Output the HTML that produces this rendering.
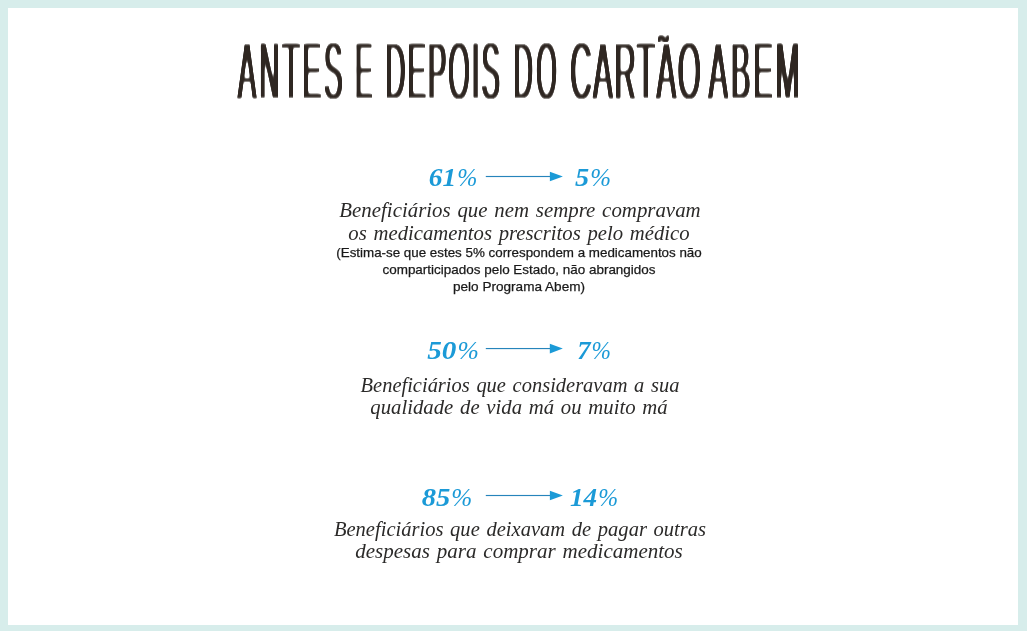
<!DOCTYPE html>
<html lang="pt">
<head>
<meta charset="utf-8">
<title>Antes e depois do cartão Abem</title>
<style>
html,body{margin:0;padding:0;}
body{width:1027px;height:631px;background:#d7edeb;position:relative;overflow:hidden;font-family:"Liberation Serif",serif;}
#card{position:absolute;left:8px;top:8px;width:1010px;height:617px;background:#fff;}
.ln{position:absolute;white-space:nowrap;line-height:1;}
.ln>span{display:inline-block;transform-origin:50% 50%;}
.title{font-family:"Liberation Sans",sans-serif;color:#2a221d;}
.it{font-family:"Liberation Serif",serif;font-style:italic;color:#2b2a29;}
.num{font-family:"Liberation Serif",serif;font-style:italic;font-weight:bold;color:#1b9ad7;}
.sm{font-family:"Liberation Sans",sans-serif;color:#1a1a1a;}
.pc{font-weight:normal;display:inline-block;transform:scaleX(.88);transform-origin:0 50%;margin-left:1px;margin-right:-2.6px;}
svg.arrow{position:absolute;left:0;top:0;overflow:visible;}
</style>
</head>
<body>
<div id="card"></div>

<svg class="arrow" id="title" width="1027" height="631" viewBox="0 0 1027 631" role="heading" aria-label="Antes e depois do cartão Abem">
<defs>
<filter id="cond" x="200" y="15" width="640" height="100" filterUnits="userSpaceOnUse" color-interpolation-filters="sRGB">
  <feGaussianBlur in="SourceAlpha" stdDeviation="1.5 0" result="bx"/>
  <feComponentTransfer in="bx" result="dx"><feFuncA type="linear" slope="3" intercept="-0.0400"/></feComponentTransfer>
  <feGaussianBlur in="dx" stdDeviation="0 1.5" result="by"/>
  <feComponentTransfer in="by" result="ey"><feFuncA type="linear" slope="3" intercept="-2.0200"/></feComponentTransfer>
  <feOffset in="ey" dx="0" dy="0" x="200" y="42" width="640" height="73" result="main"/>
  <feOffset in="ey" dx="-3.5" dy="5.5" x="650" y="31" width="30" height="11" result="til"/>
  <feMerge result="shape"><feMergeNode in="main"/><feMergeNode in="til"/></feMerge>
  <feFlood flood-color="#2a221d"/>
  <feComposite in2="shape" operator="in"/>
</filter>
</defs>
<g filter="url(#cond)" font-family="Liberation Sans, sans-serif" font-size="100" fill="#000">
    <text transform="translate(237.68,98.8) scale(0.278,0.82)" letter-spacing="10.99">ANTES</text>
    <text transform="translate(355.20,98.8) scale(0.255,0.82)" letter-spacing="8.00">E</text>
    <text transform="translate(385.51,98.8) scale(0.276,0.82)" letter-spacing="7.33">DEPOIS</text>
    <text transform="translate(513.76,98.8) scale(0.265,0.82)" letter-spacing="12.64">DO</text>
    <text transform="translate(570.14,98.8) scale(0.295,0.82)" letter-spacing="5.56">CARTÃO</text>
    <text transform="translate(708.62,98.8) scale(0.291,0.82)" letter-spacing="9.99">ABEM</text>
</g>
</svg>

<div class="ln num" id="n1a" style="left:452.92px;top:164.81px;font-size:26px;"><span style="transform:translateX(-50%) scaleX(1.0538)">61<span class="pc">%</span></span></div>
<div class="ln num" id="n1b" style="left:593.05px;top:164.81px;font-size:26px;"><span style="transform:translateX(-50%) scaleX(1.0898)">5<span class="pc">%</span></span></div>
<div class="ln it" id="a1" style="left:519.64px;top:199.60px;font-size:20px;word-spacing:1.5px;"><span style="transform:translateX(-50%) scaleX(1.0433)">Beneficiários que nem sempre compravam</span></div>
<div class="ln it" id="a2" style="left:519.43px;top:222.90px;font-size:20px;word-spacing:1.5px;"><span style="transform:translateX(-50%) scaleX(1.0352)">os medicamentos prescritos pelo médico</span></div>
<div class="ln sm" id="s1" style="left:518.64px;top:245.60px;font-size:13px;-webkit-text-stroke:0.25px #1a1a1a;"><span style="transform:translateX(-50%) scaleX(1.0280)">(Estima-se que estes 5% correspondem a medicamentos não</span></div>
<div class="ln sm" id="s2" style="left:518.56px;top:262.81px;font-size:13px;-webkit-text-stroke:0.25px #1a1a1a;"><span style="transform:translateX(-50%) scaleX(1.0352)">comparticipados pelo Estado, não abrangidos</span></div>
<div class="ln sm" id="s3" style="left:519.49px;top:279.90px;font-size:13px;-webkit-text-stroke:0.25px #1a1a1a;"><span style="transform:translateX(-50%) scaleX(1.0440)">pelo Programa Abem)</span></div>

<div class="ln num" id="n2a" style="left:452.78px;top:337.60px;font-size:26px;"><span style="transform:translateX(-50%) scaleX(1.1208)">50<span class="pc">%</span></span></div>
<div class="ln num" id="n2b" style="left:594.29px;top:337.60px;font-size:26px;"><span style="transform:translateX(-50%) scaleX(1.0201)">7<span class="pc">%</span></span></div>
<div class="ln it" id="b1" style="left:519.61px;top:374.50px;font-size:20px;word-spacing:1.5px;"><span style="transform:translateX(-50%) scaleX(1.0237)">Beneficiários que consideravam a sua</span></div>
<div class="ln it" id="b2" style="left:519.32px;top:396.60px;font-size:20px;word-spacing:1.5px;"><span style="transform:translateX(-50%) scaleX(1.0370)">qualidade de vida má ou muito má</span></div>

<div class="ln num" id="n3a" style="left:447.38px;top:484.81px;font-size:26px;"><span style="transform:translateX(-50%) scaleX(1.0999)">85<span class="pc">%</span></span></div>
<div class="ln num" id="n3b" style="left:594.01px;top:484.81px;font-size:26px;"><span style="transform:translateX(-50%) scaleX(1.0416)">14<span class="pc">%</span></span></div>
<div class="ln it" id="c1" style="left:519.56px;top:518.71px;font-size:20px;word-spacing:1.5px;"><span style="transform:translateX(-50%) scaleX(1.0268)">Beneficiários que deixavam de pagar outras</span></div>
<div class="ln it" id="c2" style="left:519.29px;top:540.60px;font-size:20px;word-spacing:1.5px;"><span style="transform:translateX(-50%) scaleX(1.0509)">despesas para comprar medicamentos</span></div>

<svg class="arrow" id="arrows" width="1027" height="631" viewBox="0 0 1027 631">
  <g fill="#1b9ad7" stroke="none">
    <rect x="485.8" y="175.93" width="66.10" height="1.15" fill="#2684bb"/><polygon points="549.90,171.65 562.90,176.50 549.90,181.35"/>
    <rect x="485.8" y="347.98" width="66.00" height="1.15" fill="#2684bb"/><polygon points="549.80,343.70 562.80,348.55 549.80,353.40"/>
    <rect x="485.8" y="494.93" width="66.10" height="1.15" fill="#2684bb"/><polygon points="549.90,490.65 562.90,495.50 549.90,500.35"/>
  </g>
</svg>
</body>
</html>
